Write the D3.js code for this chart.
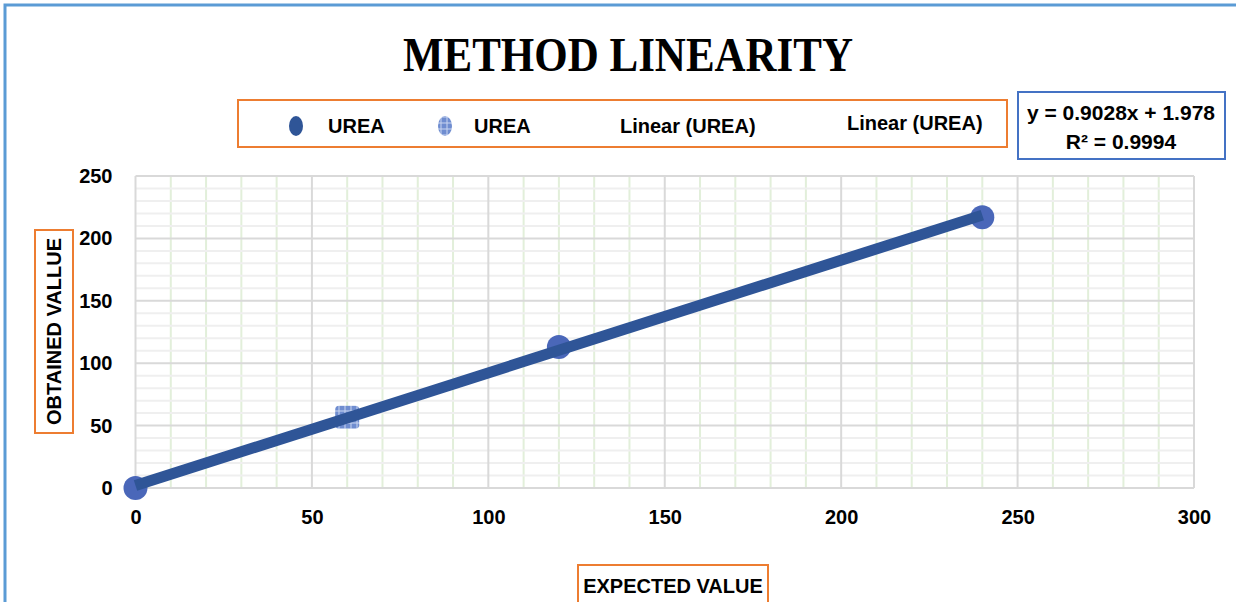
<!DOCTYPE html>
<html lang="en">
<head>
<meta charset="UTF-8">
<script src="https://cdn.jsdelivr.net/npm/d3@7"></script>
<style>
body { margin: 0; background: #fff; }
svg { display: block; }
.tick-label { font-family: "Liberation Sans", Arial, sans-serif; font-weight: bold; font-size: 20px; fill: #000; }
.legend-text { font-family: "Liberation Sans", Arial, sans-serif; font-weight: bold; font-size: 20px; fill: #000; }
.eq-text { font-family: "Liberation Sans", Arial, sans-serif; font-weight: bold; font-size: 21px; fill: #000; }
</style>
</head>
<body>
<div id="chart"></div>
<script>
// data
const ureaExpected = [0, 120, 240];
const ureaObtained = [0, 113, 217];
const urea2Expected = [60];
const urea2Obtained = [57];
const trendSlope = 0.9028;
const trendIntercept = 1.978;
const trendR2 = 0.9994;
const xTicks = [0, 50, 100, 150, 200, 250, 300];
const yTicks = [0, 50, 100, 150, 200, 250];
const legendLabels = ["UREA", "UREA", "Linear (UREA)", "Linear (UREA)"];

const W = 1236, H = 602;
const plot = {left: 135.5, right: 1194, top: 176, bottom: 488};

const svg = d3.select("#chart").append("svg")
    .attr("width", W).attr("height", H);

const defs = svg.append("defs");
const pat = defs.append("pattern")
    .attr("id", "lightPat")
    .attr("patternUnits", "userSpaceOnUse")
    .attr("width", 6).attr("height", 6);
pat.append("rect").attr("width", 6).attr("height", 6).attr("fill", "#6f8dd0");
pat.append("path").attr("d", "M0,3H6M3,0V6").attr("stroke", "#c9d6f0").attr("stroke-width", 1);

// outer frame (only top and left show)
svg.append("path")
    .attr("d", `M5,${H} V5 H${W}`)
    .attr("fill", "none")
    .attr("stroke", "#5b9bd5")
    .attr("stroke-width", 3);

const x = d3.scaleLinear().domain([0, 300]).range([plot.left, plot.right]);
const y = d3.scaleLinear().domain([0, 250]).range([plot.bottom, plot.top]);

// minor grid
svg.append("g").selectAll("line")
    .data(d3.range(10, 300, 10).filter(d => d % 50 !== 0))
    .enter().append("line")
    .attr("x1", d => x(d)).attr("x2", d => x(d))
    .attr("y1", plot.top).attr("y2", plot.bottom)
    .attr("stroke", "#e2efda").attr("stroke-width", 2);
svg.append("g").selectAll("line")
    .data(d3.range(10, 250, 10).filter(d => d % 50 !== 0))
    .enter().append("line")
    .attr("x1", plot.left).attr("x2", plot.right)
    .attr("y1", d => y(d)).attr("y2", d => y(d))
    .attr("stroke", "#efefef").attr("stroke-width", 2);

// major grid
svg.append("g").selectAll("line")
    .data(xTicks)
    .enter().append("line")
    .attr("x1", d => x(d)).attr("x2", d => x(d))
    .attr("y1", plot.top).attr("y2", plot.bottom)
    .attr("stroke", "#d9d9d9").attr("stroke-width", 2);
svg.append("g").selectAll("line")
    .data(yTicks)
    .enter().append("line")
    .attr("x1", plot.left).attr("x2", plot.right)
    .attr("y1", d => y(d)).attr("y2", d => y(d))
    .attr("stroke", "#d9d9d9").attr("stroke-width", 2);

// axes (labels only)
const gx = svg.append("g")
    .attr("transform", `translate(0,${plot.bottom + 8})`)
    .call(d3.axisBottom(x).tickValues(xTicks).tickSize(0).tickPadding(14));
gx.select(".domain").remove();
gx.selectAll("text").attr("class", "tick-label").attr("font-size", null).attr("font-family", null);

const gy = svg.append("g")
    .attr("transform", `translate(${plot.left - 8},0)`)
    .call(d3.axisLeft(y).tickValues(yTicks).tickSize(0).tickPadding(15));
gy.select(".domain").remove();
gy.selectAll("text").attr("class", "tick-label").attr("font-size", null).attr("font-family", null);

// markers
svg.append("g").selectAll("circle")
    .data(ureaExpected)
    .enter().append("circle")
    .attr("cx", d => x(d))
    .attr("cy", (d, i) => y(ureaObtained[i]))
    .attr("r", 12)
    .attr("fill", "#4a67b9");

svg.append("g").selectAll("rect")
    .data(urea2Expected)
    .enter().append("rect")
    .attr("x", d => x(d) - 12)
    .attr("y", (d, i) => y(urea2Obtained[i]) - 11)
    .attr("width", 24).attr("height", 23).attr("rx", 4)
    .attr("fill", "url(#lightPat)");

// trendline
const tx = [0, d3.max(ureaExpected)];
svg.append("line")
    .attr("x1", x(tx[0])).attr("y1", y(trendSlope * tx[0] + trendIntercept))
    .attr("x2", x(tx[1])).attr("y2", y(trendSlope * tx[1] + trendIntercept))
    .attr("stroke", "#2f5597").attr("stroke-width", 11);

// title
svg.append("text")
    .attr("x", 628).attr("y", 71)
    .attr("text-anchor", "middle")
    .attr("font-family", "'Liberation Serif', 'Times New Roman', serif")
    .attr("font-weight", "bold")
    .attr("font-size", 49)
    .attr("textLength", 450)
    .attr("lengthAdjust", "spacingAndGlyphs")
    .text("METHOD LINEARITY");

// legend
svg.append("rect")
    .attr("x", 238).attr("y", 100).attr("width", 769).attr("height", 47)
    .attr("fill", "none").attr("stroke", "#ed7d31").attr("stroke-width", 2);
svg.append("ellipse").attr("cx", 296).attr("cy", 126).attr("rx", 7).attr("ry", 10).attr("fill", "#2f5597");
svg.append("ellipse").attr("cx", 445).attr("cy", 126).attr("rx", 7).attr("ry", 10).attr("fill", "url(#lightPat)");
const legX = [328, 474, 620, 847];
const legY = [133, 133, 133, 130];
svg.append("g").selectAll("text")
    .data(legendLabels)
    .enter().append("text")
    .attr("class", "legend-text")
    .attr("x", (d, i) => legX[i])
    .attr("y", (d, i) => legY[i])
    .text(d => d);

// equation box
svg.append("rect")
    .attr("x", 1018).attr("y", 92).attr("width", 207).attr("height", 67)
    .attr("fill", "#fff").attr("stroke", "#4472c4").attr("stroke-width", 2);
svg.append("text")
    .attr("class", "eq-text")
    .attr("x", 1121).attr("y", 120)
    .attr("text-anchor", "middle")
    .text(`y = ${trendSlope}x + ${trendIntercept}`);
svg.append("text")
    .attr("class", "eq-text")
    .attr("x", 1121).attr("y", 149)
    .attr("text-anchor", "middle")
    .text(`R² = ${trendR2}`);

// axis titles
svg.append("rect")
    .attr("x", 35).attr("y", 230).attr("width", 38).attr("height", 203)
    .attr("fill", "#fff").attr("stroke", "#ed7d31").attr("stroke-width", 2);
svg.append("text")
    .attr("class", "legend-text")
    .attr("transform", "translate(61,331.5) rotate(-90)")
    .attr("text-anchor", "middle")
    .text("OBTAINED VALLUE");

svg.append("rect")
    .attr("x", 578).attr("y", 565).attr("width", 190).attr("height", 44)
    .attr("fill", "#fff").attr("stroke", "#ed7d31").attr("stroke-width", 2);
svg.append("text")
    .attr("class", "legend-text")
    .attr("x", 673).attr("y", 593)
    .attr("text-anchor", "middle")
    .text("EXPECTED VALUE");
</script>
</body>
</html>
